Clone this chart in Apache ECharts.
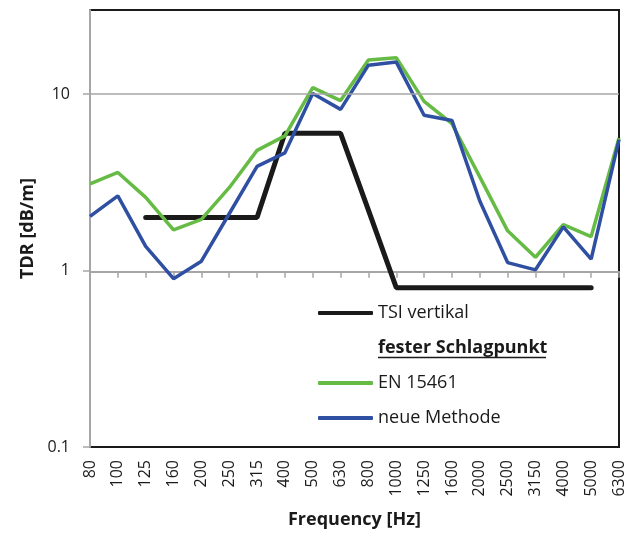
<!DOCTYPE html>
<html>
<head>
<meta charset="utf-8">
<script src="https://cdn.jsdelivr.net/npm/echarts@6/dist/echarts.min.js"></script>
<style>
html, body { margin: 0; padding: 0; background: #fff; }
#chart { width: 635px; height: 534px; }
</style>
</head>
<body>
<div id="chart"></div>
<script>
// terzband frequencies
const categories = ['80', '100', '125', '160', '200', '250', '315', '400', '500', '630',
    '800', '1000', '1250', '1600', '2000', '2500', '3150', '4000', '5000', '6300'];

// TSI limit line (no values at 80, 100 and 6300 Hz)
const tsiVertikal = [null, null, 2, 2, 2, 2, 2, 6, 6, 6,
    2.2, 0.8, 0.8, 0.8, 0.8, 0.8, 0.8, 0.8, 0.8, null];

const en15461 = [3.1, 3.6, 2.6, 1.7, 1.95, 2.95, 4.8, 5.8, 10.9, 9.2,
    15.6, 16.1, 9.1, 6.8, 3.4, 1.68, 1.19, 1.82, 1.56, 5.65];

const neueMethode = [2.03, 2.65, 1.37, 0.9, 1.13, 2.1, 3.9, 4.65, 10.1, 8.2,
    14.6, 15.2, 7.6, 7.1, 2.48, 1.11, 1.01, 1.77, 1.16, 5.53];

// horizontal gridline (the one at 1 is the x axis, the one at 0.1 the frame)
const gridValues = [10];

const font = '"Open Sans", sans-serif';
const gray = '#a6a6a6';

const myChart = echarts.init(document.getElementById('chart'));
let option;

option = {
    animation: false,
    textStyle: { fontFamily: font, color: '#1a1a1a' },
    grid: [
        {
            left: 90, right: 16, top: 10, bottom: 85,
            show: true, borderColor: '#1a1a1a', borderWidth: 2
        },
        // upper part only, so that the x axis line sits at y = 1
        { left: 90, right: 16, top: 10, height: 261.7, show: false }
    ],
    legend: {
        orient: 'vertical',
        left: 318,
        top: 303,
        padding: 0,
        itemWidth: 55,
        itemHeight: 4,
        itemGap: 15,
        icon: 'roundRect',
        textStyle: { fontFamily: font, fontSize: 18, color: '#1a1a1a', lineHeight: 20 },
        data: [
            { name: 'TSI vertikal', icon: 'roundRect' },
            { name: 'fester Schlagpunkt', icon: 'none', textStyle: { fontWeight: 'bold' } },
            { name: 'EN 15461', icon: 'roundRect' },
            { name: 'neue Methode', icon: 'roundRect' }
        ]
    },
    graphic: [
        {
            type: 'line',
            shape: { x1: 378, y1: 357.5, x2: 546, y2: 357.5 },
            style: { stroke: '#1a1a1a', lineWidth: 1.5 }
        }
    ],
    xAxis: [
        {
            type: 'category',
            gridIndex: 0,
            data: categories,
            boundaryGap: false,
            name: 'Frequency [Hz]',
            nameLocation: 'middle',
            nameGap: 64,
            nameTextStyle: { fontFamily: font, fontSize: 18, fontWeight: 'bold', color: '#1a1a1a' },
            axisLine: { show: false },
            axisTick: { show: false },
            axisLabel: { rotate: 90, margin: 13, interval: 0, fontSize: 16, color: '#1a1a1a' },
            splitLine: { show: false }
        },
        {
            type: 'category',
            gridIndex: 1,
            data: categories,
            boundaryGap: false,
            axisLine: { show: true, lineStyle: { color: gray, width: 2 } },
            axisTick: { show: true, interval: 0, length: 6, lineStyle: { color: gray, width: 1.5 } },
            axisLabel: { show: false },
            splitLine: { show: false }
        }
    ],
    yAxis: [
        {
            type: 'log',
            gridIndex: 0,
            logBase: 10,
            min: 0.1,
            max: 30,
            name: 'TDR [dB/m]',
            nameLocation: 'middle',
            nameGap: 52,
            nameTextStyle: { fontFamily: font, fontSize: 18, fontWeight: 'bold', color: '#1a1a1a' },
            axisLine: { show: true, lineStyle: { color: gray, width: 2 } },
            axisTick: { show: true, length: 7, lineStyle: { color: gray, width: 1.5 } },
            axisLabel: { margin: 20, fontSize: 16, color: '#1a1a1a', showMaxLabel: false },
            splitLine: { show: false }
        },
        { type: 'value', gridIndex: 1, show: false }
    ],
    series: [
        {
            name: 'TSI vertikal',
            type: 'line',
            data: tsiVertikal,
            symbol: 'none',
            color: '#1a1a1a',
            lineStyle: { color: '#1a1a1a', width: 5, cap: 'round' },
            markLine: {
                silent: true,
                symbol: ['none', 'none'],
                label: { show: false },
                lineStyle: { color: gray, width: 1.5, type: 'solid' },
                data: gridValues.map(v => ({ yAxis: v }))
            }
        },
        {
            name: 'fester Schlagpunkt',
            type: 'line',
            data: [],
            symbol: 'none',
            color: 'rgba(0,0,0,0)'
        },
        {
            name: 'EN 15461',
            type: 'line',
            data: en15461,
            symbol: 'none',
            color: '#66bb44',
            lineStyle: { color: '#66bb44', width: 3.5 }
        },
        {
            name: 'neue Methode',
            type: 'line',
            data: neueMethode,
            symbol: 'none',
            color: '#2f4fa2',
            lineStyle: { color: '#2f4fa2', width: 3.5 }
        }
    ]
};

option && myChart.setOption(option);
</script>
</body>
</html>
